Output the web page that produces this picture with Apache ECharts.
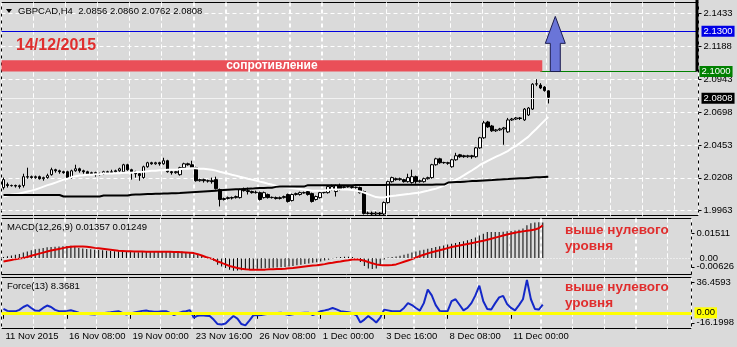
<!DOCTYPE html>
<html><head><meta charset="utf-8">
<script src="https://cdn.jsdelivr.net/npm/echarts@6/dist/echarts.min.js"></script>
<style>html,body{margin:0;padding:0;background:#dadada}#c{width:737px;height:347px}</style>
</head><body><div id="c"></div>
<script>
// ---------- data ----------
const tickLabels = ['11 Nov 2015','16 Nov 08:00','19 Nov 00:00','23 Nov 16:00','26 Nov 08:00','1 Dec 00:00','3 Dec 16:00','8 Dec 08:00','11 Dec 00:00'];
const slotCount = 174; // H4 slots incl. empty right shift area
// [open, close, low, high]
const ohlc = [
[2.0135,2.0194,2.0120,2.0209],[2.0157,2.0150,2.0135,2.0172],[2.0150,2.0149,2.0142,2.0157],[2.0150,2.0146,2.0135,2.0157],[2.0148,2.0142,2.0127,2.0157],
[2.0150,2.0216,2.0135,2.0238],[2.0216,2.0213,2.0201,2.0283],[2.0216,2.0209,2.0201,2.0224],[2.0209,2.0216,2.0201,2.0224],[2.0216,2.0201,2.0194,2.0224],
[2.0201,2.0209,2.0186,2.0216],[2.0209,2.0224,2.0201,2.0238],[2.0231,2.0268,2.0224,2.0283],[2.0268,2.0260,2.0246,2.0275],[2.0260,2.0253,2.0238,2.0268],
[2.0253,2.0246,2.0238,2.0260],[2.0253,2.0209,2.0201,2.0260],[2.0209,2.0260,2.0201,2.0268],[2.0260,2.0275,2.0253,2.0305],[2.0275,2.0260,2.0246,2.0283],
[2.0260,2.0253,2.0238,2.0268],[2.0253,2.0238,2.0231,2.0260],[2.0238,2.0246,2.0231,2.0253],[2.0246,2.0231,2.0216,2.0253],[2.0231,2.0238,2.0224,2.0246],
[2.0238,2.0253,2.0231,2.0260],[2.0253,2.0246,2.0238,2.0260],[2.0246,2.0253,2.0238,2.0268],[2.0253,2.0260,2.0246,2.0268],[2.0260,2.0275,2.0253,2.0283],
[2.0253,2.0305,2.0246,2.0312],[2.0305,2.0268,2.0260,2.0312],[2.0268,2.0253,2.0194,2.0275],[2.0253,2.0238,2.0209,2.0260],[2.0238,2.0224,2.0186,2.0246],
[2.0209,2.0290,2.0201,2.0298],[2.0290,2.0320,2.0283,2.0327],[2.0320,2.0312,2.0305,2.0327],[2.0312,2.0320,2.0305,2.0327],[2.0320,2.0312,2.0298,2.0327],
[2.0312,2.0335,2.0305,2.0357],[2.0335,2.0253,2.0246,2.0342],[2.0253,2.0246,2.0231,2.0260],[2.0246,2.0253,2.0238,2.0260],[2.0231,2.0283,2.0224,2.0290],
[2.0283,2.0312,2.0275,2.0320],[2.0312,2.0305,2.0298,2.0320],[2.0305,2.0283,2.0275,2.0335],[2.0283,2.0186,2.0179,2.0290],[2.0186,2.0194,2.0179,2.0201],
[2.0194,2.0186,2.0172,2.0201],[2.0186,2.0183,2.0172,2.0194],[2.0186,2.0179,2.0164,2.0209],[2.0194,2.0127,2.0120,2.0216],[2.0120,2.0046,1.9994,2.0127],
[2.0046,2.0053,2.0038,2.0060],[2.0053,2.0060,2.0046,2.0068],[2.0060,2.0057,2.0046,2.0068],[2.0060,2.0068,2.0053,2.0075],[2.0060,2.0120,2.0053,2.0127],
[2.0120,2.0112,2.0105,2.0135],[2.0112,2.0105,2.0083,2.0135],[2.0105,2.0097,2.0090,2.0112],[2.0097,2.0100,2.0090,2.0112],[2.0097,2.0046,2.0038,2.0105],
[2.0060,2.0097,2.0053,2.0105],[2.0083,2.0060,2.0053,2.0090],[2.0060,2.0062,2.0053,2.0068],[2.0060,2.0053,2.0046,2.0068],[2.0053,2.0060,2.0046,2.0068],
[2.0060,2.0068,2.0053,2.0075],[2.0083,2.0031,2.0023,2.0090],[2.0038,2.0083,2.0031,2.0090],[2.0083,2.0090,2.0075,2.0097],[2.0083,2.0097,2.0075,2.0105],
[2.0097,2.0095,2.0090,2.0105],[2.0105,2.0083,2.0075,2.0112],[2.0090,2.0031,2.0023,2.0097],[2.0046,2.0068,2.0038,2.0075],[2.0060,2.0097,2.0053,2.0105],
[2.0097,2.0100,2.0090,2.0105],[2.0097,2.0142,2.0090,2.0150],[2.0120,2.0142,2.0112,2.0157],[2.0105,2.0150,2.0068,2.0157],[2.0150,2.0120,2.0112,2.0164],
[2.0135,2.0142,2.0127,2.0150],[2.0142,2.0140,2.0135,2.0150],[2.0142,2.0135,2.0127,2.0150],[2.0135,2.0138,2.0127,2.0142],[2.0135,2.0097,2.0090,2.0142],
[2.0105,1.9942,1.9934,2.0112],[1.9942,1.9945,1.9934,1.9956],[1.9945,1.9938,1.9930,1.9956],[1.9938,1.9945,1.9930,1.9956],[1.9945,1.9938,1.9930,1.9952],
[1.9938,2.0023,1.9930,2.0031],[2.0023,2.0179,2.0016,2.0186],[2.0179,2.0209,2.0172,2.0216],[2.0201,2.0194,2.0186,2.0209],[2.0194,2.0201,2.0186,2.0209],
[2.0194,2.0179,2.0172,2.0201],[2.0179,2.0209,2.0172,2.0238],[2.0172,2.0216,2.0164,2.0268],[2.0216,2.0179,2.0164,2.0224],[2.0179,2.0186,2.0172,2.0194],
[2.0179,2.0201,2.0172,2.0209],[2.0201,2.0209,2.0194,2.0216],[2.0209,2.0305,2.0201,2.0312],[2.0305,2.0349,2.0298,2.0357],[2.0349,2.0320,2.0312,2.0357],
[2.0320,2.0322,2.0312,2.0327],[2.0320,2.0316,2.0305,2.0327],[2.0290,2.0342,2.0283,2.0349],[2.0342,2.0372,2.0335,2.0394],[2.0379,2.0365,2.0357,2.0386],
[2.0372,2.0365,2.0357,2.0379],[2.0365,2.0372,2.0357,2.0379],[2.0372,2.0365,2.0350,2.0379],[2.0365,2.0431,2.0357,2.0438],[2.0431,2.0506,2.0424,2.0513],
[2.0506,2.0617,2.0498,2.0632],[2.0624,2.0587,2.0580,2.0632],[2.0594,2.0558,2.0550,2.0602],[2.0558,2.0565,2.0550,2.0572],[2.0565,2.0572,2.0558,2.0580],
[2.0572,2.0580,2.0454,2.0587],[2.0550,2.0639,2.0543,2.0654],[2.0639,2.0646,2.0632,2.0654],[2.0646,2.0654,2.0639,2.0661],[2.0654,2.0650,2.0639,2.0661],
[2.0639,2.0720,2.0632,2.0728],[2.0676,2.0728,2.0669,2.0735],[2.0720,2.0906,2.0713,2.0913],[2.0906,2.0909,2.0891,2.0943],[2.0899,2.0877,2.0869,2.0913],
[2.0884,2.0858,2.0850,2.0891],[2.0856,2.0808,2.0762,2.0860]
];
const maFast = [
2.0068,2.0075,2.0083,2.0086,2.0090,2.0098,2.0105,2.0112,2.0120,2.0131,
2.0142,2.0153,2.0161,2.0172,2.0183,2.0194,2.0201,2.0213,2.0220,2.0224,
2.0227,2.0231,2.0231,2.0235,2.0235,2.0239,2.0239,2.0239,2.0242,2.0242,
2.0246,2.0246,2.0246,2.0250,2.0250,2.0253,2.0257,2.0261,2.0261,2.0264,
2.0264,2.0268,2.0268,2.0268,2.0272,2.0276,2.0276,2.0279,2.0279,2.0276,
2.0276,2.0272,2.0268,2.0261,2.0253,2.0246,2.0239,2.0231,2.0224,2.0216,
2.0209,2.0201,2.0194,2.0187,2.0179,2.0172,2.0164,2.0157,2.0149,2.0142,
2.0138,2.0135,2.0131,2.0127,2.0124,2.0120,2.0116,2.0112,2.0112,2.0112,
2.0112,2.0116,2.0120,2.0120,2.0120,2.0120,2.0120,2.0116,2.0112,2.0105,
2.0098,2.0086,2.0075,2.0064,2.0060,2.0060,2.0068,2.0072,2.0075,2.0079,
2.0083,2.0086,2.0090,2.0094,2.0098,2.0105,2.0112,2.0120,2.0127,2.0138,
2.0149,2.0164,2.0179,2.0194,2.0209,2.0227,2.0246,2.0264,2.0283,2.0305,
2.0320,2.0335,2.0350,2.0365,2.0379,2.0394,2.0409,2.0431,2.0446,2.0468,
2.0491,2.0513,2.0543,2.0572,2.0602,2.0632,2.0661
];
const maSlow = [
2.0079,2.0079,2.0079,2.0079,2.0079,2.0079,2.0079,2.0079,2.0079,2.0079,
2.0079,2.0079,2.0079,2.0079,2.0079,2.0068,2.0068,2.0068,2.0068,2.0068,
2.0068,2.0068,2.0068,2.0068,2.0068,2.0075,2.0075,2.0075,2.0075,2.0075,
2.0075,2.0075,2.0082,2.0083,2.0084,2.0085,2.0086,2.0087,2.0088,2.0089,
2.0090,2.0091,2.0092,2.0093,2.0094,2.0096,2.0098,2.0100,2.0102,2.0104,
2.0106,2.0108,2.0110,2.0112,2.0114,2.0116,2.0118,2.0120,2.0122,2.0123,
2.0125,2.0126,2.0127,2.0130,2.0131,2.0132,2.0133,2.0134,2.0140,2.0142,
2.0142,2.0142,2.0142,2.0142,2.0142,2.0142,2.0153,2.0153,2.0153,2.0153,
2.0153,2.0153,2.0153,2.0153,2.0153,2.0153,2.0153,2.0153,2.0154,2.0154,
2.0154,2.0154,2.0154,2.0154,2.0154,2.0154,2.0155,2.0155,2.0155,2.0155,
2.0155,2.0155,2.0155,2.0155,2.0156,2.0156,2.0156,2.0156,2.0157,2.0157,
2.0157,2.0172,2.0174,2.0176,2.0177,2.0179,2.0181,2.0183,2.0184,2.0186,
2.0188,2.0190,2.0191,2.0193,2.0195,2.0197,2.0198,2.0200,2.0202,2.0204,
2.0205,2.0207,2.0209,2.0211,2.0212,2.0214,2.0216
];
const macdMain = [
0.0004,0.0007,0.0010,0.0013,0.0016,0.0021,0.0025,0.0030,0.0034,0.0036,
0.0039,0.0041,0.0042,0.0043,0.0044,0.0045,0.0046,0.0047,0.0043,0.0039,
0.0037,0.0035,0.0034,0.0032,0.0031,0.0030,0.0028,0.0027,0.0026,0.0026,
0.0025,0.0024,0.0023,0.0022,0.0022,0.0023,0.0024,0.0025,0.0025,0.0026,
0.0026,0.0027,0.0027,0.0026,0.0025,0.0025,0.0022,0.0019,0.0015,0.0012,
0.0009,0.0005,0.0001,-0.0010,-0.0025,-0.0032,-0.0038,-0.0044,-0.0048,-0.0047,
-0.0046,-0.0044,-0.0043,-0.0042,-0.0041,-0.0040,-0.0039,-0.0038,-0.0037,-0.0036,
-0.0035,-0.0034,-0.0032,-0.0030,-0.0027,-0.0025,-0.0023,-0.0021,-0.0018,-0.0016,
-0.0013,-0.0009,-0.0006,-0.0002,0.0002,0.0004,0.0005,0.0005,0.0004,0.0000,
-0.0015,-0.0030,-0.0040,-0.0042,-0.0040,-0.0025,-0.0005,0.0002,0.0004,0.0006,
0.0009,0.0013,0.0017,0.0021,0.0025,0.0029,0.0032,0.0036,0.0039,0.0042,
0.0045,0.0048,0.0052,0.0055,0.0058,0.0061,0.0064,0.0068,0.0073,0.0079,
0.0086,0.0093,0.0100,0.0100,0.0100,0.0100,0.0101,0.0102,0.0103,0.0105,
0.0108,0.0113,0.0125,0.0133,0.0136,0.0137,0.01357
];
const macdSignal = [
-0.0013,-0.0010,-0.0007,-0.0004,-0.0002,0.0000,0.0004,0.0009,0.0013,0.0017,
0.0021,0.0025,0.0029,0.0032,0.0035,0.0038,0.0041,0.0043,0.0044,0.0044,
0.0044,0.0043,0.0041,0.0039,0.0038,0.0036,0.0034,0.0032,0.0030,0.0028,
0.0027,0.0026,0.0026,0.0025,0.0025,0.0025,0.0024,0.0024,0.0024,0.0024,
0.0024,0.0024,0.0024,0.0023,0.0023,0.0022,0.0021,0.0020,0.0019,0.0015,
0.0010,0.0004,0.0000,-0.0005,-0.0013,-0.0018,-0.0024,-0.0030,-0.0034,-0.0038,
-0.0041,-0.0043,-0.0044,-0.0044,-0.0044,-0.0044,-0.0044,-0.0043,-0.0043,-0.0042,
-0.0042,-0.0041,-0.0039,-0.0038,-0.0036,-0.0034,-0.0032,-0.0030,-0.0028,-0.0027,
-0.0025,-0.0023,-0.0020,-0.0018,-0.0015,-0.0013,-0.0010,-0.0008,-0.0005,-0.0004,
-0.0006,-0.0010,-0.0015,-0.0020,-0.0024,-0.0026,-0.0027,-0.0027,-0.0026,-0.0024,
-0.0019,-0.0014,-0.0009,-0.0004,0.0002,0.0008,0.0013,0.0018,0.0022,0.0026,
0.0030,0.0034,0.0038,0.0042,0.0045,0.0048,0.0051,0.0054,0.0057,0.0060,
0.0063,0.0066,0.0070,0.0074,0.0078,0.0082,0.0086,0.0090,0.0094,0.0097,
0.0100,0.0102,0.0104,0.0106,0.0109,0.0114,0.01249
];
const forceIdx = [
4,2,1.5,1.5,3,6,8,5,2.3,2,
5,7.5,6,3,1.7,1.5,2,2.6,1.5,0,
-0.5,-1,-1.5,-1.7,-1,-0.5,0,0.5,1.2,1.7,
0,-1.7,-0.8,0.3,1.2,2,2.3,1.5,1,1,
1.5,1.7,0,-2.3,-0.5,1,1.7,2.6,-5,-3,
-2.6,-3,-3.3,-7,-11.6,-12,-11,-7,-3.3,-6,
-11.6,-13,-8,-2.6,-2.4,-2.3,-1.5,-1,-0.5,-0.2,
0,-1.2,-2.3,-1.5,-0.8,-0.3,0,0,-2.3,-0.5,
1.7,2.5,3.5,5,3.5,1.7,1.2,0.7,-0.5,-2.6,
-10,-7,-3.3,-6.5,-10,-5,3.3,2.5,1.7,1.7,
1.7,5,10,8,5,2.3,10,24,18,8,
2,1.5,1.7,12,14,8.3,2.6,5,10,18,
28,12,4,3.4,10,16,17.5,9,5,2.6,
8,14,34,14,4,3.4,8.3681
];
const priceTicks = [1.9963, 2.0208, 2.0453, 2.0698, 2.0943, 2.1188, 2.1433];
const priceMin = 1.99266, priceMax = 2.15146;
const macdMin = -0.00626, macdMax = 0.01511;
const forceMin = -16.1998, forceMax = 36.4593;
const levelTarget = 2.1300, levelResistance = 2.1000, levelResistanceTop = 2.1084, lastPrice = 2.0808;
const arrowTop = 2.1411, arrowHeadBase = 2.1210;
const zoneEndBar = 134, arrowBar = 137;

// ---------- chart ----------
const FONT = 'Liberation Sans';
const chart = echarts.init(document.getElementById('c'), null, {renderer: 'canvas'});
const cats = [];
for (let i = 0; i < slotCount; i++) cats.push(String(i));
const gridSlots = [];
for (let i = 8; i < slotCount; i += 8) gridSlots.push(i);
const base = {fontFamily: FONT, fontSize: 9.5, color: '#000'};
const G = [
  {top: 2.5, height: 213},
  {top: 218.5, height: 56},
  {top: 277.5, height: 51}
];
const grid = G.map(g => ({left: 1.5, right: 38.5, top: g.top, height: g.height, show: true,
  borderColor: '#000', borderWidth: 1, backgroundColor: 'transparent'}));
const dash = {color: '#ffffff', type: [4, 3], width: 1};
const showTick = i => i % 16 === 0 && i / 16 < tickLabels.length;
const xAxis = [0, 1, 2].map(k => ({
  type: 'category', gridIndex: k, data: cats, boundaryGap: true,
  axisLine: {show: false},
  axisTick: k === 2 ? {show: true, alignWithLabel: true, interval: (i) => showTick(i), length: 6, lineStyle: {color: '#000'}} : {show: false},
  axisLabel: k === 2 ? Object.assign({show: true, interval: (i) => showTick(i), hideOverlap: false,
      formatter: (v, i) => tickLabels[i / 16] || '', align: 'left', margin: 3, padding: [0, 0, 0, 2]}, base) : {show: false},
  splitLine: {show: true, interval: 7, lineStyle: {color: '#ffffff', type: [4, 3], width: 1}}
}));
const macdLabelVals = [macdMax - 15 / 56 * (macdMax - macdMin), macdMin + 7.7 / 56 * (macdMax - macdMin)];
const forceLabelVals = [forceMax - 5 / 51 * (forceMax - forceMin), forceMin + 5.7 / 51 * (forceMax - forceMin)];
const yAxis = [
  {type: 'value', gridIndex: 0, position: 'right', min: priceMin, max: priceMax,
   axisLine: {show: false},
   axisTick: {show: true, customValues: priceTicks, length: 3, lineStyle: {color: '#000'}},
   axisLabel: Object.assign({customValues: priceTicks, formatter: v => v.toFixed(4), margin: 5, hideOverlap: false}, base),
   splitLine: {show: true, lineStyle: dash}},
  {type: 'value', gridIndex: 1, position: 'right', min: macdMin, max: macdMax,
   axisLine: {show: false}, splitLine: {show: false},
   axisTick: {show: true, customValues: macdLabelVals, length: 3, lineStyle: {color: '#000'}},
   axisLabel: Object.assign({customValues: macdLabelVals, margin: 5, hideOverlap: false,
     formatter: v => v > 0 ? '0.01511' : '-0.00626'}, base)},
  {type: 'value', gridIndex: 2, position: 'right', min: forceMin, max: forceMax,
   axisLine: {show: false}, splitLine: {show: false},
   axisTick: {show: true, customValues: forceLabelVals, length: 3, lineStyle: {color: '#000'}},
   axisLabel: Object.assign({customValues: forceLabelVals, margin: 5, hideOverlap: false,
     formatter: v => v > 0 ? '36.4593' : '-16.1998'}, base)}
];
const boxLabel = (txt, bg, fg) => ({show: true, position: 'end', formatter: txt, color: fg, backgroundColor: bg,
  padding: [1, 2, 0, 2], distance: 3, fontFamily: FONT, fontSize: 9.5});
// vertical dashed time grid drawn by a custom series (one line per 8 H4 slots, on the slot boundary)
const timeGrid = (k, yv) => ({type: 'custom', xAxisIndex: k, yAxisIndex: k, silent: true, z: 1, clip: false,
  data: gridSlots.map(i => [i, yv]),
  renderItem: (params, api) => {
    const cs = params.coordSys;
    const cx = api.coord([api.value(0), yv])[0];
    const half = api.size([1, 0])[0] / 2;
    const x = Math.floor(cx - half) + 0.5;
    return {type: 'line', shape: {x1: x, y1: cs.y, x2: x, y2: cs.y + cs.height},
      style: {stroke: '#ffffff', lineWidth: 1, lineDash: [4, 3], fill: null}};
  }});
const option = {
  animation: false,
  backgroundColor: '#dadada',
  grid, xAxis, yAxis,
  series: [
    timeGrid(0, 2.05), timeGrid(1, 0), timeGrid(2, 0),
    {type: 'candlestick', name: 'GBPCAD,H4', xAxisIndex: 0, yAxisIndex: 0, data: ohlc, barWidth: 3, z: 3,
     itemStyle: {color: '#ffffff', color0: '#000000', borderColor: '#000000', borderColor0: '#000000', borderWidth: 1},
     markLine: {silent: true, symbol: 'none', animation: false, data: [
       {yAxis: levelTarget, lineStyle: {color: '#0000dd', width: 1, type: 'solid'}, label: boxLabel('2.1300', '#0000e6', '#ffffff')},
       {yAxis: lastPrice, lineStyle: {color: '#f2f2f2', width: 1, type: 'solid'}, label: boxLabel('2.0808', '#000000', '#ffffff')},
       [{coord: [zoneEndBar, levelResistance], lineStyle: {color: '#008000', width: 1, type: 'solid'}, label: boxLabel('2.1000', '#008000', '#ffffff')},
        {coord: [slotCount - 1, levelResistance]}]
     ]}},
    {type: 'line', name: 'MA fast', xAxisIndex: 0, yAxisIndex: 0, data: maFast, showSymbol: false, silent: true,
     lineStyle: {color: '#ffffff', width: 2}, itemStyle: {color: '#ffffff'}, z: 4},
    {type: 'line', name: 'MA slow', xAxisIndex: 0, yAxisIndex: 0, data: maSlow, showSymbol: false, silent: true,
     lineStyle: {color: '#000000', width: 2}, itemStyle: {color: '#000000'}, z: 4},
    {type: 'bar', name: 'MACD', xAxisIndex: 1, yAxisIndex: 1, data: macdMain, barWidth: 1, silent: true, z: 3,
     itemStyle: {color: '#000000'},
     markLine: {silent: true, symbol: 'none', animation: false,
       data: [{yAxis: 0, lineStyle: {color: '#ffffff', width: 1, type: [1, 2]},
               label: {show: true, position: 'end', formatter: '0.00', color: '#000', distance: 8, fontFamily: FONT, fontSize: 9.5, padding: [0, 0, 2, 0]}}]}},
    {type: 'line', name: 'Signal', xAxisIndex: 1, yAxisIndex: 1, data: macdSignal, showSymbol: false, silent: true,
     lineStyle: {color: '#e00000', width: 2}, itemStyle: {color: '#e00000'}, z: 4},
    {type: 'line', name: 'Force(13)', xAxisIndex: 2, yAxisIndex: 2, data: forceIdx, showSymbol: false, silent: true, z: 3,
     lineStyle: {color: '#1428c8', width: 2}, itemStyle: {color: '#1428c8'},
     markLine: {silent: true, symbol: 'none', animation: false,
       data: [{yAxis: 0, lineStyle: {color: '#ffff00', width: 3, type: 'solid'}, label: boxLabel('0.00', '#ffff00', '#000000')}]}}
  ]
};
chart.setOption(option);

// ---------- annotations anchored to data coordinates ----------
const xAt = i => chart.convertToPixel({xAxisIndex: 0}, i);
const yAt = v => chart.convertToPixel({yAxisIndex: 0}, v);
const bw = xAt(1) - xAt(0);
const zoneL = xAt(0) - bw / 2, zoneR = xAt(zoneEndBar) + bw / 2;
const zoneT = yAt(levelResistanceTop), zoneB = yAt(levelResistance);
const ax = xAt(arrowBar) + 3, aTop = yAt(arrowTop), aHead = yAt(arrowHeadBase), aBot = yAt(levelResistance);
const RED = '#e02d2d';
const txt = (x, y, text, extra) => ({type: 'text', x, y, silent: true, z: 100,
  style: Object.assign({text, fill: '#000', fontFamily: FONT, fontSize: 9.5, align: 'left', verticalAlign: 'middle'}, extra || {})});
chart.setOption({graphic: [
  {type: 'rect', silent: true, z: 50, shape: {x: zoneL, y: zoneT, width: zoneR - zoneL, height: zoneB - zoneT}, style: {fill: '#ea4f58'}},
  txt((zoneL + zoneR) / 2, (zoneT + zoneB) / 2, 'сопротивление', {fill: '#ffffff', fontSize: 12, fontWeight: 'bold', align: 'center'}),
  {type: 'polygon', silent: true, z: 60, shape: {points: [[ax - 5, aBot], [ax - 5, aHead], [ax - 10, aHead], [ax, aTop], [ax + 10, aHead], [ax + 5, aHead], [ax + 5, aBot]]},
   style: {fill: '#6a75d8', stroke: '#1c1c50', lineWidth: 1}},
  {type: 'line', silent: true, z: 60, shape: {x1: 697, y1: 0, x2: 697, y2: zoneB}, style: {stroke: '#000', lineWidth: 3}},
  {type: 'polygon', silent: true, z: 100, shape: {points: [[6, 9], [12, 9], [9, 13]]}, style: {fill: '#000'}},
  txt(18, 11, 'GBPCAD,H4  2.0856 2.0860 2.0762 2.0808'),
  txt(16, 46, '14/12/2015', {fill: RED, fontSize: 16, fontWeight: 'bold'}),
  txt(7, 227, 'MACD(12,26,9) 0.01357 0.01249'),
  txt(7, 286, 'Force(13) 8.3681'),
  txt(565, 230, 'выше нулевого', {fill: RED, fontSize: 13.5, fontWeight: 'bold'}),
  txt(565, 246, 'уровня', {fill: RED, fontSize: 13.5, fontWeight: 'bold'}),
  txt(565, 287, 'выше нулевого', {fill: RED, fontSize: 13.5, fontWeight: 'bold'}),
  txt(565, 303, 'уровня', {fill: RED, fontSize: 13.5, fontWeight: 'bold'})
]});
</script>
</body></html>
